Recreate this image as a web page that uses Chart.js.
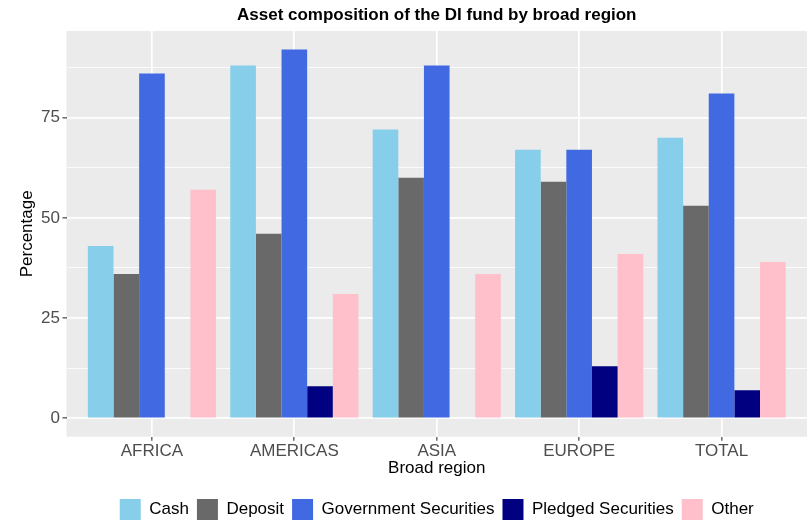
<!DOCTYPE html>
<html>
<head>
<meta charset="utf-8">
<script src="https://cdn.jsdelivr.net/npm/chart.js@4.4.0/dist/chart.umd.min.js"></script>
<style>
html,body{margin:0;padding:0;background:#fff;overflow:hidden;}
canvas{display:block;}
</style>
</head>
<body>
<canvas id="c" width="807" height="524"></canvas>
<script>
const categories = ['AFRICA', 'AMERICAS', 'ASIA', 'EUROPE', 'TOTAL'];
const seriesNames = ['Cash', 'Deposit', 'Government Securities', 'Pledged Securities', 'Other'];
const cash       = [43, 88, 72, 67, 70];
const deposit    = [36, 46, 60, 59, 53];
const government = [86, 92, 88, 67, 81];
const pledged    = [0, 8, 0, 13, 7];
const other      = [57, 31, 36, 41, 39];
const yMajorTicks = [0, 25, 50, 75];
const yTickLabels = ['0', '25', '50', '75'];
const yMinorTicks = [12.5, 37.5, 62.5, 87.5];

const seriesValues = [cash, deposit, government, pledged, other];
const colors = ['#87CEEB', '#696969', '#4169E1', '#000080', '#FFC0CB'];
const FONT = "'Liberation Sans', Arial, Helvetica, sans-serif";

const datasets = seriesNames.map((name, k) => ({
  label: name,
  data: seriesValues[k].map((v, i) => ({ x: i + 1, y: v })),
  backgroundColor: colors[k],
  borderWidth: 0,
  barPercentage: 1.0,
  categoryPercentage: 0.9
}));

const panelBg = {
  id: 'panelBg',
  beforeDraw(chart) {
    const { ctx, chartArea: a } = chart;
    ctx.save();
    ctx.fillStyle = '#EBEBEB';
    ctx.fillRect(a.left, a.top, a.right - a.left, a.bottom - a.top);
    ctx.restore();
  }
};

const isMajor = (v) => yMajorTicks.includes(v);

new Chart(document.getElementById('c'), {
  type: 'bar',
  data: { datasets },
  plugins: [panelBg],
  options: {
    responsive: false,
    animation: false,
    devicePixelRatio: 1,
    layout: { padding: { top: 0, left: 0, right: 0, bottom: -6 } },
    plugins: {
      title: {
        display: true,
        fullSize: false,
        text: 'Asset composition of the DI fund by broad region',
        color: '#000',
        font: { family: FONT, size: 17, weight: 'bold', lineHeight: 1.2 },
        padding: { top: 5, bottom: 5.6 }
      },
      legend: {
        display: true,
        position: 'bottom',
        fullSize: false,
        labels: {
          color: '#000',
          font: { family: FONT, size: 17 },
          boxWidth: 21,
          boxHeight: 21,
          padding: 8
        }
      },
      tooltip: { enabled: false }
    },
    scales: {
      x: {
        type: 'linear',
        min: 0.4,
        max: 5.6,
        offset: false,
        afterBuildTicks: (s) => { s.ticks = categories.map((c, i) => ({ value: i + 1 })); },
        afterFit: (s) => { s.height = 54.3; },
        ticks: {
          autoSkip: false,
          maxRotation: 0,
          color: '#4D4D4D',
          padding: 0,
          font: { family: FONT, size: 17 },
          callback: (v) => categories[Math.round(v) - 1] || ''
        },
        grid: {
          offset: false,
          color: '#FFFFFF',
          lineWidth: 1.7,
          tickColor: '#333333',
          tickLength: 4,
          tickWidth: 1.1,
          drawTicks: true
        },
        border: { display: false },
        title: {
          display: true,
          text: 'Broad region',
          color: '#000',
          font: { family: FONT, size: 17, lineHeight: 1.2 },
          padding: { top: 0, bottom: 12.8 }
        }
      },
      y: {
        type: 'linear',
        min: -4.6,
        max: 96.6,
        afterBuildTicks: (s) => {
          s.ticks = yMajorTicks.concat(yMinorTicks).sort((a, b) => a - b).map(v => ({ value: v }));
        },
        afterFit: (s) => { s.width = 66.5; },
        ticks: {
          color: '#4D4D4D',
          padding: 2.5,
          font: { family: FONT, size: 17 },
          callback: (v) => { const i = yMajorTicks.indexOf(v); return i >= 0 ? yTickLabels[i] : ''; }
        },
        grid: {
          offset: false,
          color: '#FFFFFF',
          lineWidth: (ctx) => (ctx.tick && isMajor(ctx.tick.value)) ? 1.7 : 0.8,
          tickColor: (ctx) => (ctx.tick && isMajor(ctx.tick.value)) ? '#333333' : 'rgba(0,0,0,0)',
          tickLength: 4,
          tickWidth: 1.1
        },
        border: { display: false },
        title: {
          display: true,
          text: 'Percentage',
          color: '#000',
          font: { family: FONT, size: 17, lineHeight: 1.2 },
          padding: { top: 17, bottom: 0 }
        }
      }
    }
  }
});
</script>
</body>
</html>
